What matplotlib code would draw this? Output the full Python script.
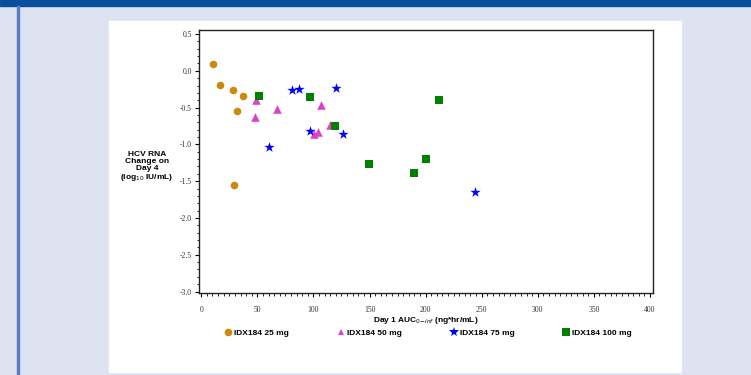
import matplotlib
matplotlib.use("Agg")
import matplotlib.pyplot as plt
from matplotlib.patches import Rectangle
from matplotlib.ticker import MultipleLocator
from matplotlib.lines import Line2D

# data (Day 1 AUC vs HCV RNA change)
auc_25 = [10.7, 16.3, 28.2, 36.8, 31.7, 29.0]
rna_25 = [0.09, -0.19, -0.26, -0.34, -0.55, -1.55]

auc_50 = [49.0, 47.5, 67.9, 106.5, 100.3, 104.1, 114.8]
rna_50 = [-0.39, -0.63, -0.52, -0.47, -0.86, -0.83, -0.74]

auc_75 = [60.5, 81.3, 87.5, 120.2, 97.0, 126.0, 243.6]
rna_75 = [-1.04, -0.26, -0.25, -0.23, -0.82, -0.86, -1.65]

auc_100 = [51.9, 96.7, 119.3, 149.5, 211.5, 200.0, 189.6]
rna_100 = [-0.34, -0.35, -0.75, -1.27, -0.39, -1.20, -1.39]

groups = ["IDX184 25 mg", "IDX184 50 mg", "IDX184 75 mg", "IDX184 100 mg"]
colors = ["#c98a0e", "#e040c8", "#0000ff", "#008000"]
markers = ["o", "^", "*", "s"]
sizes = [30, 38, 60, 26]

W, H = 751, 375
fig = plt.figure(figsize=(W / 100, H / 100), dpi=100)
fig.patch.set_facecolor("#dde3f1")

# background panel, header band and left rule
fig.patches.append(Rectangle((109 / W, 1 - 372 / H), (681 - 109) / W, (372 - 21) / H,
                             transform=fig.transFigure, color="white", zorder=-5))
fig.patches.append(Rectangle((0, 1 - 6 / H), 1, 6 / H, transform=fig.transFigure,
                             color="#0a4f9c", zorder=-5))
fig.patches.append(Rectangle((16.5 / W, 0), 2 / W, 1 - 6 / H, transform=fig.transFigure,
                             color="#5a7fc0", zorder=-5))

ax = fig.add_axes([199 / W, 1 - 293 / H, (653 - 199) / W, (293 - 30) / H])
ax.set_zorder(2)
ax.set_facecolor("white")

xs = [auc_25, auc_50, auc_75, auc_100]
ys = [rna_25, rna_50, rna_75, rna_100]
for x, y, c, m, s, lab in zip(xs, ys, colors, markers, sizes, groups):
    ax.scatter(x, y, color=c, marker=m, s=s, linewidths=0, label=lab, zorder=3)

ax.set_xlim(-2, 402.7)
ax.set_ylim(-3.02, 0.555)
ax.xaxis.set_major_locator(MultipleLocator(50))
ax.xaxis.set_minor_locator(MultipleLocator(5))
ax.yaxis.set_major_locator(MultipleLocator(0.5))
ax.yaxis.set_minor_locator(MultipleLocator(0.1))
ax.yaxis.set_major_formatter(matplotlib.ticker.FormatStrFormatter("%.1f"))

for sp in ax.spines.values():
    sp.set_linewidth(1.0)
    sp.set_color("#222222")

ax.tick_params(axis="both", which="major", direction="out", length=3, width=0.8,
               labelsize=5.5, labelcolor="#333333", labelfontfamily="Liberation Serif")
ax.tick_params(axis="both", which="minor", direction="out", length=1.8, width=0.6)
ax.tick_params(axis="x", which="major", pad=6)
ax.tick_params(axis="y", which="major", pad=2)

ax.set_xlabel("Day 1 AUC$_{0\\mathrm{-}inf}$ (ng*hr/mL)", fontsize=6, fontweight="bold",
              family="Liberation Sans", labelpad=1)

fig.text(147 / W, 1 - 167 / H, "HCV RNA\nChange on\nDay 4\n(log$_{10}$ IU/mL)",
         ha="center", va="center", fontsize=6, fontweight="bold",
         family="Liberation Sans", linespacing=1.0)

handles = [Line2D([], [], linestyle="none", marker=m, color=c, markersize=ms,
                  markeredgewidth=0)
           for m, c, ms in zip(markers, colors, [5.5, 4.5, 7.5, 5.5])]
fig.legend(handles, groups, loc="center", bbox_to_anchor=(428 / W, 1 - 333 / H),
           ncol=4, frameon=False, handletextpad=0.2, columnspacing=5.75,
           handlelength=1.0, prop={"family": "Liberation Sans", "weight": "bold", "size": 6})

fig.savefig("out.png", dpi=100)
